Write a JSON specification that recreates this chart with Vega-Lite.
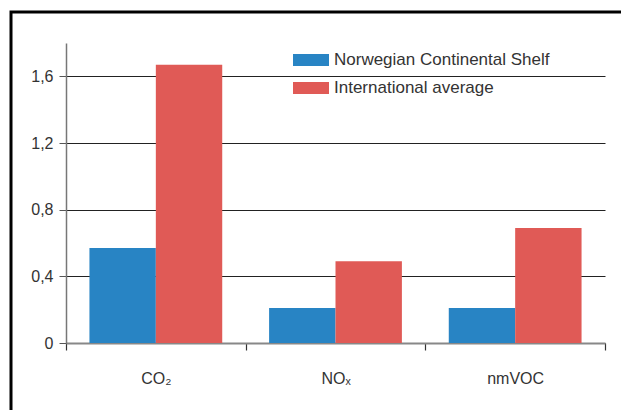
{
  "$schema": "https://vega.github.io/schema/vega-lite/v6.json",
  "width": 610,
  "height": 398,
  "autosize": {"type": "none"},
  "padding": {"left": 11, "top": 12, "right": 0, "bottom": 0},
  "background": "#ffffff",
  "data": {
    "values": [
      {"gas": "CO₂", "series": "Norwegian Continental Shelf", "value": 0.57},
      {"gas": "CO₂", "series": "International average", "value": 1.67},
      {"gas": "NOₓ", "series": "Norwegian Continental Shelf", "value": 0.21},
      {"gas": "NOₓ", "series": "International average", "value": 0.49},
      {"gas": "nmVOC", "series": "Norwegian Continental Shelf", "value": 0.21},
      {"gas": "nmVOC", "series": "International average", "value": 0.69}
    ]
  },
  "mark": {"type": "bar"},
  "encoding": {
    "x": {
      "field": "gas",
      "type": "nominal",
      "sort": null,
      "title": null,
      "scale": {"range": [55, 594], "paddingInner": 0, "paddingOuter": 0},
      "axis": {
        "orient": "bottom",
        "offset": -67,
        "labelAngle": 0,
        "tickBand": "extent",
        "tickSize": 7,
        "tickColor": "#333",
        "tickWidth": 1.2,
        "domainColor": "#888",
        "domainWidth": 2,
        "labelFont": "Liberation Sans",
        "labelFontSize": 16,
        "labelColor": "#333",
        "labelPadding": 20,
        "grid": false
      }
    },
    "xOffset": {
      "field": "series",
      "type": "nominal",
      "sort": ["Norwegian Continental Shelf", "International average"],
      "scale": {"paddingInner": 0, "paddingOuter": 0.353}
    },
    "y": {
      "field": "value",
      "type": "quantitative",
      "title": null,
      "scale": {"domain": [0, 1.8], "range": [331, 31], "nice": false, "zero": true},
      "axis": {
        "orient": "left",
        "offset": -55,
        "values": [0, 0.4, 0.8, 1.2, 1.6],
        "labelExpr": "datum.value == 0 ? '0' : replace(format(datum.value, '.1f'), '.', ',')",
        "tickSize": 7,
        "tickColor": "#555",
        "domainColor": "#777",
        "domainWidth": 1.5,
        "labelFont": "Liberation Sans",
        "labelFontSize": 16,
        "labelColor": "#333",
        "labelPadding": 6,
        "grid": true,
        "gridColor": "#222",
        "gridWidth": 1
      }
    },
    "color": {
      "field": "series",
      "type": "nominal",
      "sort": ["Norwegian Continental Shelf", "International average"],
      "scale": {"range": ["#2884c4", "#e05a56"]},
      "legend": {
        "title": null,
        "orient": "none",
        "legendX": 288,
        "legendY": 36,
        "padding": 0,
        "symbolType": "M-1.5,-0.5H1.5V0.5H-1.5Z",
        "symbolSize": 576,
        "symbolStrokeWidth": 0,
        "symbolOpacity": 1,
        "labelFont": "Liberation Sans",
        "labelFontSize": 17,
        "labelColor": "#333",
        "labelOffset": 11,
        "rowPadding": 8,
        "labelLimit": 400
      }
    }
  },
  "config": {
    "view": {"stroke": "#000", "strokeWidth": 3, "strokeDash": [610, 1008, 398]},
    "axis": {"domainCap": "butt"}
  }
}
